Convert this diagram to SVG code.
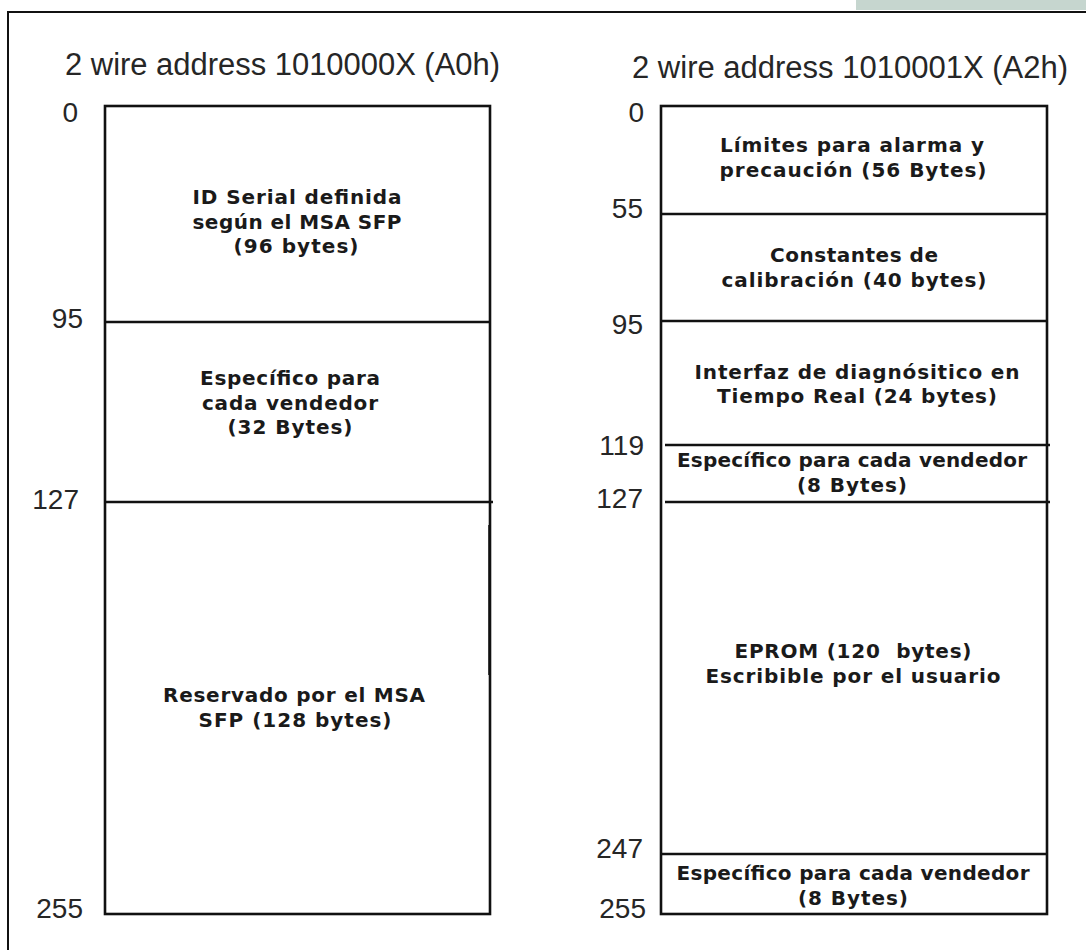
<svg xmlns="http://www.w3.org/2000/svg" width="1086" height="950" viewBox="0 0 1086 950">
<style>
.title{font-family:"Liberation Sans",Arial,sans-serif;font-size:31px;fill:#262626}
.num{font-family:"Liberation Sans",Arial,sans-serif;font-size:28px;fill:#262626;text-anchor:end}
.lbl{font-family:"DejaVu Sans",Verdana,sans-serif;font-weight:bold;font-size:20px;fill:#1a1a1a;text-anchor:middle}
.box{fill:none;stroke:#111;stroke-width:2.6}
.div{stroke:#111;stroke-width:2.6}
</style>
<rect x="0" y="0" width="1086" height="950" fill="#ffffff"/>
<rect id="corner" x="856" y="-2" width="232" height="12" fill="#c6d6cf"/>
<rect id="frame" x="8" y="12" width="1100" height="960" fill="none" stroke="#111" stroke-width="2"/>

<g id="titles">
<text class="title" x="65" y="75" textLength="435" lengthAdjust="spacingAndGlyphs">2 wire address 1010000X (A0h)</text>
<text class="title" x="632" y="78" textLength="436" lengthAdjust="spacingAndGlyphs">2 wire address 1010001X (A2h)</text>
</g>

<g id="map-a0">
<rect class="box" x="105" y="106" width="385" height="808"/>
<line class="div" x1="105" y1="322" x2="490" y2="322"/>
<line class="div" x1="105" y1="502" x2="493" y2="502"/>
<line x1="489" y1="525" x2="489" y2="675" stroke="#111" stroke-width="1.5"/>
<text class="num" x="78" y="122">0</text>
<text class="num" x="83" y="328">95</text>
<text class="num" x="79" y="509">127</text>
<text class="num" x="83" y="918">255</text>
</g>

<g id="a0-serial">
<text class="lbl" x="297" y="204" textLength="209">ID Serial definida</text>
<text class="lbl" x="297" y="229" textLength="209">según el MSA SFP</text>
<text class="lbl" x="296" y="253" textLength="125">(96 bytes)</text>
</g>
<g id="a0-vendor">
<text class="lbl" x="290" y="385" textLength="180">Específico para</text>
<text class="lbl" x="290" y="410" textLength="176">cada vendedor</text>
<text class="lbl" x="290" y="434" textLength="125">(32 Bytes)</text>
</g>
<g id="a0-reserved">
<text class="lbl" x="294" y="702" textLength="262">Reservado por el MSA</text>
<text class="lbl" x="295" y="727" textLength="193">SFP (128 bytes)</text>
</g>

<g id="map-a2">
<rect class="box" x="661" y="106" width="386" height="808"/>
<line class="div" x1="661" y1="214" x2="1047" y2="214"/>
<line class="div" x1="661" y1="321" x2="1047" y2="321"/>
<line class="div" x1="665" y1="445" x2="1050" y2="445"/>
<line class="div" x1="665" y1="502" x2="1050" y2="502"/>
<line class="div" x1="661" y1="854" x2="1047" y2="854"/>
<text class="num" x="644" y="122">0</text>
<text class="num" x="643" y="218">55</text>
<text class="num" x="643" y="334">95</text>
<text class="num" x="644" y="455">119</text>
<text class="num" x="643" y="508">127</text>
<text class="num" x="643" y="858">247</text>
<text class="num" x="646" y="918">255</text>
</g>

<g id="a2-limits">
<text class="lbl" x="852" y="152" textLength="264">Límites para alarma y</text>
<text class="lbl" x="853" y="177" textLength="267">precaución (56 Bytes)</text>
</g>
<g id="a2-calib">
<text class="lbl" x="854" y="262" textLength="168">Constantes de</text>
<text class="lbl" x="854" y="287" textLength="265">calibración (40 bytes)</text>
</g>
<g id="a2-diag">
<text class="lbl" x="857" y="379" textLength="325">Interfaz de diagnósitico en</text>
<text class="lbl" x="857" y="403" textLength="280">Tiempo Real (24 bytes)</text>
</g>
<g id="a2-vendor1">
<text class="lbl" x="852" y="467" textLength="350">Específico para cada vendedor</text>
<text class="lbl" x="852" y="492" textLength="110">(8 Bytes)</text>
</g>
<g id="a2-eprom">
<text class="lbl" x="853" y="658" textLength="237" xml:space="preserve">EPROM (120  bytes)</text>
<text class="lbl" x="853" y="683" textLength="295">Escribible por el usuario</text>
</g>
<g id="a2-vendor2">
<text class="lbl" x="853" y="880" textLength="353">Específico para cada vendedor</text>
<text class="lbl" x="853" y="905" textLength="110">(8 Bytes)</text>
</g>
<g id="connectors"></g>
</svg>
